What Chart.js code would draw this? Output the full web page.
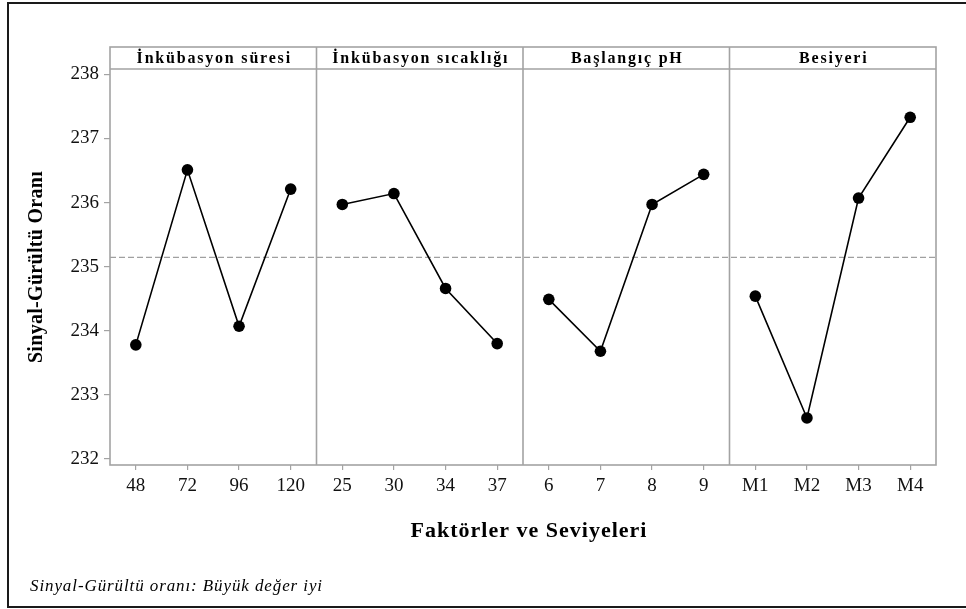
<!DOCTYPE html>
<html>
<head>
<meta charset="utf-8">
<script src="https://cdn.jsdelivr.net/npm/chart.js@4.4.1/dist/chart.umd.min.js"></script>
<style>
html,body{margin:0;padding:0;background:#fff;}
canvas{display:block;}
</style>
</head>
<body>
<canvas id="c" width="966" height="609"></canvas>
<script>
// ---- data ----
const panelNames = ["İnkübasyon süresi", "İnkübasyon sıcaklığı", "Başlangıç pH", "Besiyeri"];
const levelsIncubationTime = ["48", "72", "96", "120"];
const levelsIncubationTemp = ["25", "30", "34", "37"];
const levelsPH = ["6", "7", "8", "9"];
const levelsMedium = ["M1", "M2", "M3", "M4"];
const snIncubationTime = [233.78, 236.51, 234.07, 236.21];
const snIncubationTemp = [235.97, 236.14, 234.66, 233.80];
const snPH = [234.49, 233.68, 235.97, 236.44];
const snMedium = [234.54, 232.64, 236.07, 237.33];
const yTickValues = [232, 233, 234, 235, 236, 237, 238];
const yMin = 231.906, yMax = 238.083;
const yTitle = "Sinyal-Gürültü Oranı";
const xTitle = "Faktörler ve Seviyeleri";
const footnote = "Sinyal-Gürültü oranı: Büyük değer iyi";

const levelGroups = [levelsIncubationTime, levelsIncubationTemp, levelsPH, levelsMedium];
const seriesGroups = [snIncubationTime, snIncubationTemp, snPH, snMedium];
const labels = levelGroups.flat();
const allValues = seriesGroups.flat();
const overallMean = allValues.reduce((a, b) => a + b, 0) / allValues.length;

const datasets = seriesGroups.map((vals, p) => {
  const data = labels.map(() => null);
  vals.forEach((v, i) => { data[p * 4 + i] = v; });
  return {
    label: panelNames[p],
    data: data,
    borderColor: "#000",
    backgroundColor: "#000",
    borderWidth: 1.6,
    pointRadius: 5.8,
    pointBackgroundColor: "#000",
    pointBorderColor: "#000",
    pointBorderWidth: 0,
    spanGaps: false,
    tension: 0
  };
});

const GRAY = "#a3a3a3";
const SERIF = "'Liberation Serif', 'Times New Roman', serif";

const framePlugin = {
  id: "frame",
  beforeDraw(chart) {
    const ctx = chart.ctx;
    ctx.save();
    ctx.fillStyle = "#fff";
    ctx.fillRect(0, 0, chart.width, chart.height);
    ctx.strokeStyle = "#1a1a1a";
    ctx.lineWidth = 2;
    ctx.beginPath();
    ctx.moveTo(chart.width + 2, 3);
    ctx.lineTo(8, 3);
    ctx.lineTo(8, 607);
    ctx.lineTo(chart.width + 2, 607);
    ctx.stroke();
    ctx.restore();
  },
  beforeDatasetsDraw(chart) {
    const ctx = chart.ctx;
    const a = chart.chartArea;
    const xs = chart.scales.x, ys = chart.scales.y;
    const headerTop = a.top - 22;
    ctx.save();
    // dashed mean line
    const ym = ys.getPixelForValue(overallMean);
    ctx.strokeStyle = "#a0a0a0";
    ctx.lineWidth = 1.2;
    ctx.setLineDash([6, 3]);
    ctx.beginPath();
    ctx.moveTo(a.left, ym);
    ctx.lineTo(a.right, ym);
    ctx.stroke();
    ctx.setLineDash([]);
    // panel box + header strip
    ctx.strokeStyle = GRAY;
    ctx.lineWidth = 1.6;
    ctx.strokeRect(a.left, headerTop, a.right - a.left, a.bottom - headerTop);
    ctx.beginPath();
    ctx.moveTo(a.left, a.top);
    ctx.lineTo(a.right, a.top);
    for (let p = 1; p < 4; p++) {
      const xd = (xs.getPixelForTick(p * 4 - 1) + xs.getPixelForTick(p * 4)) / 2;
      ctx.moveTo(xd, headerTop);
      ctx.lineTo(xd, a.bottom);
    }
    ctx.stroke();
    // header texts
    ctx.fillStyle = "#000";
    ctx.font = "bold 16px " + SERIF;
    ctx.textAlign = "center";
    ctx.textBaseline = "middle";
    try { ctx.letterSpacing = "1.8px"; } catch (e) {}
    for (let p = 0; p < 4; p++) {
      const xc = (xs.getPixelForTick(p * 4) + xs.getPixelForTick(p * 4 + 3)) / 2;
      ctx.fillText(panelNames[p], xc + 1, (headerTop + a.top) / 2 + 1);
    }
    ctx.restore();
  },
  afterDraw(chart) {
    const ctx = chart.ctx;
    const a = chart.chartArea;
    ctx.save();
    ctx.fillStyle = "#000";
    ctx.textAlign = "center";
    ctx.textBaseline = "middle";
    // x title
    try { ctx.letterSpacing = "1px"; } catch (e) {}
    ctx.font = "bold 22px " + SERIF;
    ctx.fillText(xTitle, (a.left + a.right) / 2 + 6, 531);
    // y title
    try { ctx.letterSpacing = "0.3px"; } catch (e) {}
    ctx.save();
    ctx.translate(37, (a.top + a.bottom) / 2);
    ctx.rotate(-Math.PI / 2);
    ctx.font = "bold 20px " + SERIF;
    ctx.fillText(yTitle, 0, 0);
    ctx.restore();
    // footnote
    try { ctx.letterSpacing = "0.9px"; } catch (e) {}
    ctx.font = "italic 17px " + SERIF;
    ctx.textAlign = "left";
    ctx.fillText(footnote, 30, 587);
    ctx.restore();
  }
};

new Chart(document.getElementById("c"), {
  type: "line",
  data: { labels: labels, datasets: datasets },
  options: {
    responsive: false,
    animation: false,
    events: [],
    layout: { padding: { left: 0, top: 69, right: 30, bottom: 0 } },
    plugins: { legend: { display: false }, tooltip: { enabled: false }, title: { display: false } },
    scales: {
      x: {
        type: "category",
        offset: true,
        border: { display: false },
        grid: {
          offset: false,
          drawOnChartArea: false,
          drawTicks: true,
          tickLength: 5,
          color: GRAY,
          lineWidth: 1.2
        },
        ticks: {
          color: "#111",
          font: { family: SERIF, size: 19 },
          padding: 5,
          maxRotation: 0,
          autoSkip: false
        },
        afterFit(scale) { scale.height = 144; }
      },
      y: {
        type: "linear",
        min: yMin,
        max: yMax,
        border: { display: false },
        grid: {
          drawOnChartArea: false,
          drawTicks: true,
          tickLength: 6,
          color: GRAY,
          lineWidth: 1.2
        },
        ticks: {
          color: "#111",
          font: { family: SERIF, size: 19 },
          padding: 5
        },
        afterBuildTicks(scale) { scale.ticks = yTickValues.map(v => ({ value: v })); },
        afterFit(scale) { scale.width = 110; }
      }
    }
  },
  plugins: [framePlugin]
});
</script>
</body>
</html>
